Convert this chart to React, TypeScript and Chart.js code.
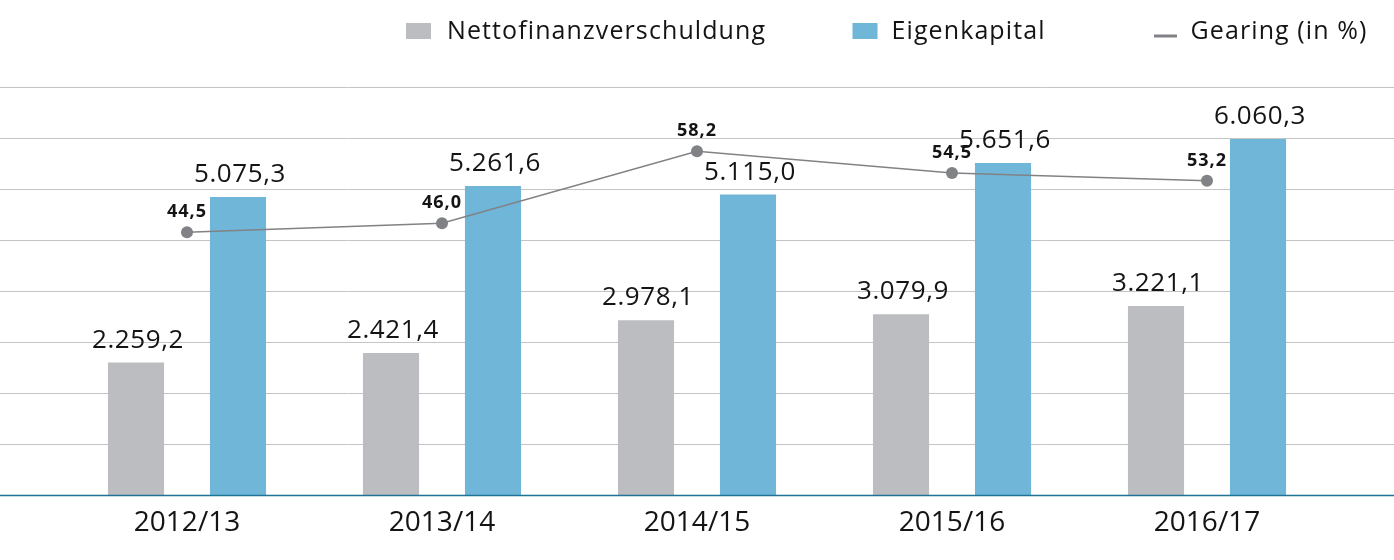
import React, { useEffect, useRef } from "react";
import { Chart, registerables } from "chart.js";

Chart.register(...registerables);

const categories = ["2012/13", "2013/14", "2014/15", "2015/16", "2016/17"];
const nettofinanz = [2259.2, 2421.4, 2978.1, 3079.9, 3221.1];
const eigenkapital = [5075.3, 5261.6, 5115.0, 5651.6, 6060.3];
const gearing = [44.5, 46.0, 58.2, 54.5, 53.2];
const seriesLabels = ["Nettofinanzverschuldung", "Eigenkapital", "Gearing (in %)"];

const FONT = "'Open Sans', sans-serif";
const GREY = "#bcbdc0";
const BLUE = "#70b6d8";
const LINE = "#808285";
const GRID = "#c4c4c4";
const AXIS = "#1f7396";
const TEXT = "#141414";

function fmt(v: number): string {
  const [i, d] = v.toFixed(1).split(".");
  const withDots = i.replace(/\B(?=(\d{3})+(?!\d))/g, ".");
  return withDots + "," + d;
}

const decor = {
  id: "decor",
  beforeDatasetsDraw(chart: any) {
    const { ctx, width, scales } = chart;
    const y = scales.y;
    ctx.save();
    ctx.strokeStyle = GRID;
    ctx.lineWidth = 1;
    const n = 8;
    for (let i = 1; i <= n; i++) {
      const v = y.min + (i * (y.max - y.min)) / n;
      const py = Math.round(y.getPixelForValue(v)) + 0.5;
      ctx.beginPath();
      ctx.moveTo(0, py);
      ctx.lineTo(width, py);
      ctx.stroke();
    }
    ctx.restore();
  },
  afterDatasetsDraw(chart: any) {
    const { ctx, width, chartArea } = chart;
    ctx.save();
    // baseline
    ctx.strokeStyle = AXIS;
    ctx.lineWidth = 1.5;
    ctx.beginPath();
    ctx.moveTo(0, chartArea.bottom);
    ctx.lineTo(width, chartArea.bottom);
    ctx.stroke();

    // bar labels
    ctx.fillStyle = TEXT;
    ctx.textAlign = "center";
    ctx.textBaseline = "alphabetic";
    ctx.font = `400 26px ${FONT}`;
    (ctx as any).letterSpacing = "0.6px";
    [0, 1].forEach((di) => {
      const meta = chart.getDatasetMeta(di);
      const data = chart.data.datasets[di].data as number[];
      meta.data.forEach((el: any, i: number) => {
        ctx.fillText(fmt(data[i]), el.x + 2, el.y - 15);
      });
    });

    // line labels
    ctx.font = `700 18px ${FONT}`;
    (ctx as any).letterSpacing = "1px";
    const lm = chart.getDatasetMeta(2);
    const ld = chart.data.datasets[2].data as number[];
    lm.data.forEach((el: any, i: number) => {
      ctx.fillText(fmt(ld[i]), el.x, el.y - 15);
    });
    ctx.restore();
  },
  afterDraw(chart: any) {
    const { ctx } = chart;
    ctx.save();
    ctx.fillStyle = TEXT;
    ctx.font = `400 25px ${FONT}`;
    (ctx as any).letterSpacing = "1.1px";
    ctx.textAlign = "left";
    ctx.textBaseline = "alphabetic";
    const baseY = 38.5;
    // item 1
    ctx.fillStyle = GREY;
    ctx.fillRect(406, 23, 25, 16);
    ctx.fillStyle = TEXT;
    ctx.fillText(seriesLabels[0], 447, baseY);
    // item 2
    ctx.fillStyle = BLUE;
    ctx.fillRect(852.5, 23, 25, 16);
    ctx.fillStyle = TEXT;
    ctx.fillText(seriesLabels[1], 891.5, baseY);
    // item 3
    ctx.fillStyle = LINE;
    ctx.fillRect(1154, 34.5, 23, 3);
    ctx.fillStyle = TEXT;
    ctx.fillText(seriesLabels[2], 1190.5, baseY);
    ctx.restore();
  },
};

export default function App() {
  const ref = useRef<HTMLCanvasElement | null>(null);
  useEffect(() => {
    if (!ref.current) return;
    const chart = new Chart(ref.current, {
      type: "bar",
      data: {
        labels: categories,
        datasets: [
          {
            type: "bar",
            label: seriesLabels[0],
            data: nettofinanz,
            backgroundColor: GREY,
            yAxisID: "y",
            order: 1,
            barPercentage: 0.55,
            categoryPercentage: 0.8,
          },
          {
            type: "bar",
            label: seriesLabels[1],
            data: eigenkapital,
            backgroundColor: BLUE,
            yAxisID: "y",
            order: 1,
            barPercentage: 0.55,
            categoryPercentage: 0.8,
          },
          {
            type: "line",
            label: seriesLabels[2],
            data: gearing,
            borderColor: LINE,
            backgroundColor: LINE,
            borderWidth: 1.5,
            pointRadius: 6,
            pointBackgroundColor: LINE,
            pointBorderWidth: 0,
            yAxisID: "y1",
            order: 0,
            tension: 0,
          } as any,
        ],
      },
      options: {
        animation: false,
        responsive: true,
        maintainAspectRatio: false,
        layout: { padding: { top: 86.7, left: 59.5, right: 59.5, bottom: 9 } },
        plugins: {
          legend: { display: false },
          tooltip: { enabled: false },
          title: { display: false },
        },
        scales: {
          x: {
            grid: { display: false, drawTicks: false },
            border: { display: false },
            ticks: {
              color: TEXT,
              font: { family: FONT, size: 28, weight: "400" as any },
              padding: 11,
            },
          },
          y: {
            display: false,
            min: 0,
            max: 6950,
          },
          y1: {
            display: false,
            min: 0,
            max: 69.1,
          },
        },
      },
      plugins: [decor],
    });
    return () => chart.destroy();
  }, []);
  return (
    <div style={{ position: "absolute", left: 0, top: 0, width: 1394, height: 560, background: "#fff" }}>
      <canvas ref={ref} />
    </div>
  );
}
